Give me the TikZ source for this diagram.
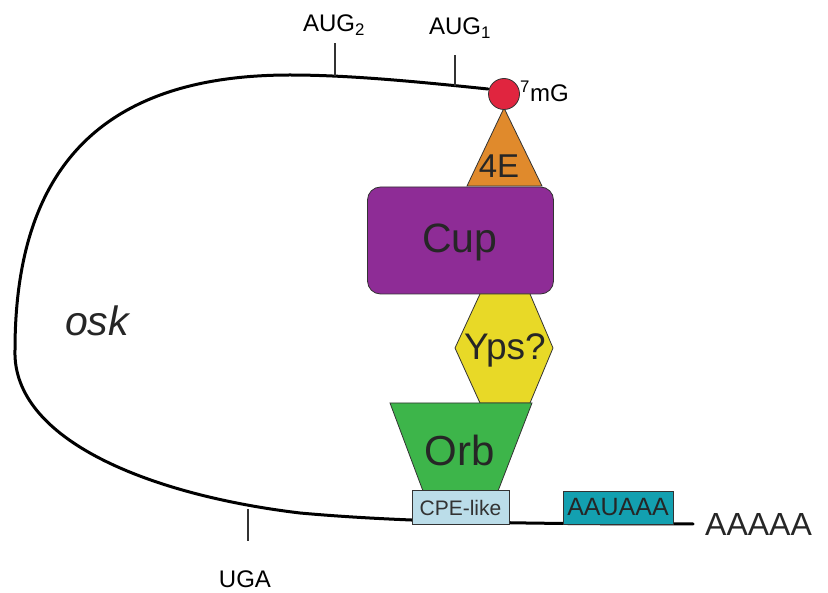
\documentclass[tikz,border=0pt]{standalone}
\usepackage{fontspec}
\setmainfont{Liberation Sans}
\definecolor{capred}{HTML}{E0253F}
\definecolor{eIForange}{HTML}{E08A2C}
\definecolor{cuppurple}{HTML}{8E2C96}
\definecolor{ypsyellow}{HTML}{E8D927}
\definecolor{orbgreen}{HTML}{3DB54A}
\definecolor{cpeblue}{HTML}{BBDDE9}
\definecolor{polyteal}{HTML}{13A0B0}
\definecolor{edge}{HTML}{333333}
\tikzset{
  shapeedge/.style={draw=edge, line width=0.8pt},
  rna/.style={line width=3pt, line cap=round},
  tick/.style={draw=edge, line width=1.2pt},
  lbl/.style={inner sep=0pt, font=\fontsize{24}{24}\selectfont},
  big/.style={inner sep=0pt, text=black!85},
}
\begin{document}
\begin{tikzpicture}[x=1pt,y=-1pt]
\useasboundingbox (0,0) rectangle (828,593);

% mRNA backbone
\coordinate (capend) at (488,89);
\coordinate (tail) at (693,524);
\draw[rna] (capend) .. controls (420,82) and (350,75) .. (290,75)
  .. controls (100,75) and (15,170) .. (15,350)
  .. controls (12,440) and (150,495) .. (300,513)
  .. controls (400,522) and (520,524) .. (tail);

% start / stop codon ticks
\coordinate (aug2a) at (335,76);  \coordinate (aug2b) at (335,43);
\coordinate (aug1a) at (455,86);  \coordinate (aug1b) at (455,55);
\coordinate (ugaa) at (248,509);  \coordinate (ugab) at (248,541);
\draw[tick] (aug2a) -- (aug2b);
\draw[tick] (aug1a) -- (aug1b);
\draw[tick] (ugaa) -- (ugab);
\node[lbl] (aug2) at (334,25) {AUG\textsubscript{2}};
\node[lbl] (aug1) at (460,28) {AUG\textsubscript{1}};
\node[lbl] (uga) at (245,579) {UGA};

% eIF4E
\draw[shapeedge, fill=eIForange] (504,108) -- (542,186) -- (467,186) -- cycle;
\node[big, font=\fontsize{33}{33}\selectfont] (fourE) at (499,166) {4E};

% cap
\node[circle, shapeedge, fill=capred, minimum size=31pt, inner sep=0pt] (cap) at (504,94) {};
\node[lbl, anchor=west] (mg) at (520,91) {\textsuperscript{7}mG};

% Cup
\node[shapeedge, fill=cuppurple, rounded corners=13pt, minimum width=186pt, minimum height=107pt] (cup) at (460.5,240.5) {};
\node[big, font=\fontsize{41}{41}\selectfont] (cuptxt) at (460,242) {Cup};

% Yps
\draw[shapeedge, fill=ypsyellow] (480,294) -- (530,294) -- (553,348) -- (530,403) -- (480,403) -- (455,348) -- cycle;
\node[big, font=\fontsize{37}{37}\selectfont] (yps) at (505,350) {Yps?};

% Orb
\draw[shapeedge, fill=orbgreen] (390,403) -- (532,403) -- (498,491) -- (423,491) -- cycle;
\node[big, font=\fontsize{42}{42}\selectfont] (orb) at (460,450) {Orb};

% 3' UTR elements
\node[shapeedge, fill=cpeblue, minimum width=97pt, minimum height=34pt, inner sep=0pt,
      font=\fontsize{21}{21}\selectfont, text=black!80] (cpe) at (460.5,507.5) {CPE-like};
\node[shapeedge, fill=polyteal, minimum width=110pt, minimum height=33pt, inner sep=0pt,
      font=\fontsize{25}{25}\selectfont, text=black!85] (pas) at (618,507.5) {AAUAAA};

% labels
\node[big, anchor=west, font=\fontsize{32}{32}\selectfont] (polyA) at (705,524) {AAAAA};
\node[big, font=\fontsize{41}{41}\selectfont\itshape] (osk) at (97,321) {osk};
\end{tikzpicture}
\end{document}
